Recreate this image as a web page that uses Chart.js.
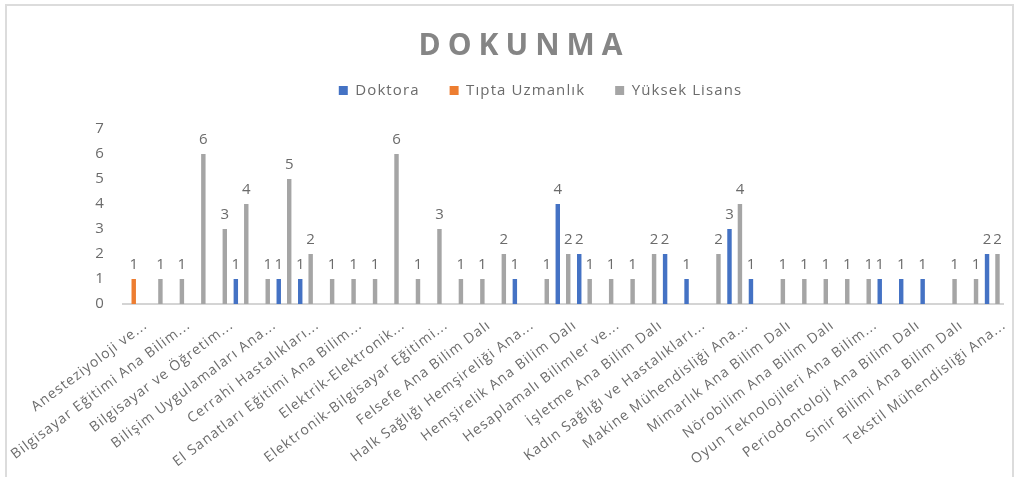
<!DOCTYPE html>
<html>
<head>
<meta charset="utf-8">
<title>DOKUNMA</title>
<script src="https://cdn.jsdelivr.net/npm/chart.js@4.4.1/dist/chart.umd.min.js"></script>
<style>
  body { margin: 0; background: #fff; }
  #wrap { position: relative; width: 1020px; height: 477px; overflow: hidden; }
  #frame { position: absolute; left: 5px; top: 4px; width: 1005px; height: 490px; border: 2px solid #dcdcdc; border-bottom: none; }
  #chart { position: absolute; left: 0; top: 0; }
</style>
</head>
<body>
<div id="wrap">
  <div id="frame"></div>
  <canvas id="chart" width="1020" height="477"></canvas>
</div>
<script>
// categories (only every other one is labelled in the original chart)
var categories = [
  'Anesteziyoloji ve...',
  'Bilgisayar Bilimleri Ana...',
  'Bilgisayar Eğitimi Ana Bilim...',
  'Bilgisayar Mühendisliği Ana...',
  'Bilgisayar ve Öğretim...',
  'Bilişim Sistemleri Ana...',
  'Bilişim Uygulamaları Ana...',
  'Biyomedikal Mühendisliği...',
  'Cerrahi Hastalıkları...',
  'Çocuk Sağlığı ve...',
  'El Sanatları Eğitimi Ana Bilim...',
  'Elektrik Mühendisliği Ana...',
  'Elektrik-Elektronik...',
  'Elektronik Mühendisliği...',
  'Elektronik-Bilgisayar Eğitimi...',
  'Endüstri Mühendisliği Ana...',
  'Felsefe Ana Bilim Dalı',
  'Fizik Ana Bilim Dalı',
  'Halk Sağlığı Hemşireliği Ana...',
  'Hareket ve Antrenman...',
  'Hemşirelik Ana Bilim Dalı',
  'Hemşirelik Esasları Ana...',
  'Hesaplamalı Bilimler ve...',
  'İç Hastalıkları Hemşireliği...',
  'İşletme Ana Bilim Dalı',
  'İşletme Yönetimi Ana...',
  'Kadın Sağlığı ve Hastalıkları...',
  'Kimya Mühendisliği Ana...',
  'Makine Mühendisliği Ana...',
  'Matematik Ana Bilim Dalı',
  'Mimarlık Ana Bilim Dalı',
  'Moleküler Biyoloji ve...',
  'Nörobilim Ana Bilim Dalı',
  'Ortodonti Ana Bilim Dalı',
  'Oyun Teknolojileri Ana Bilim...',
  'Pedodonti Ana Bilim Dalı',
  'Periodontoloji Ana Bilim Dalı',
  'Psikoloji Ana Bilim Dalı',
  'Sinir Bilimi Ana Bilim Dalı',
  'Spor Bilimleri Ana Bilim...',
  'Tekstil Mühendisliği Ana...'
];

var doktora =       [0,0,0,0,0,1,0,1,1,0, 0,0,0,0,0,0,0,0,1,0, 4,2,0,0,0,2,1,0,3,1, 0,0,0,0,0,1,1,1,0,0, 2];
var tiptaUzmanlik = [1,0,0,0,0,0,0,0,0,0, 0,0,0,0,0,0,0,0,0,0, 0,0,0,0,0,0,0,0,0,0, 0,0,0,0,0,0,0,0,0,0, 0];
var yuksekLisans =  [0,1,1,6,3,4,1,5,2,1, 1,1,6,1,3,1,1,2,0,1, 2,1,1,1,2,0,0,2,4,0, 1,1,1,1,1,0,0,0,1,1, 2];

var seriesNames = ['Doktora', 'Tıpta Uzmanlık', 'Yüksek Lisans'];
var seriesColors = ['#4472C4', '#ED7D31', '#A5A5A5'];
var yMin = 0, yMax = 7, yStep = 1;
var chartTitle = 'DOKUNMA';

var textColor = '#6b6b6b';
var fontFamily = "'Open Sans', 'Noto Sans', sans-serif";

// the original text is a bit spread out, so widen all letters slightly
var spacing = {
  id: 'spacing',
  beforeUpdate: function (chart) {
    if ('letterSpacing' in chart.ctx) chart.ctx.letterSpacing = '1.1px';
  },
  beforeDraw: function (chart) {
    if ('letterSpacing' in chart.ctx) chart.ctx.letterSpacing = '1.1px';
  }
};

// leave some room between the legend and the plot
var legendGap = {
  id: 'legendGap',
  beforeLayout: function (chart) {
    var lg = chart.legend;
    if (lg && !lg._gapAdded) {
      var fit = lg.fit;
      lg.fit = function () {
        fit.apply(this, arguments);
        this.height += 21;
      };
      lg._gapAdded = true;
    }
  }
};

// title drawn with letter spacing like the original
var titlePlugin = {
  id: 'spacedTitle',
  afterDraw: function (chart) {
    var ctx = chart.ctx;
    ctx.save();
    ctx.font = 'bold 30px ' + fontFamily;
    ctx.fillStyle = '#858585';
    ctx.textAlign = 'center';
    ctx.textBaseline = 'middle';
    if ('letterSpacing' in ctx) ctx.letterSpacing = '7px';
    ctx.fillText(chartTitle, 524, 46);
    ctx.restore();
  }
};

// value labels above every non-empty bar
var valueLabels = {
  id: 'valueLabels',
  afterDatasetsDraw: function (chart) {
    var ctx = chart.ctx;
    ctx.save();
    ctx.font = '15px ' + fontFamily;
    ctx.fillStyle = textColor;
    ctx.textAlign = 'center';
    ctx.textBaseline = 'bottom';
    if ('letterSpacing' in ctx) ctx.letterSpacing = '0px';
    chart.data.datasets.forEach(function (ds, i) {
      var meta = chart.getDatasetMeta(i);
      meta.data.forEach(function (bar, j) {
        var v = ds.data[j];
        if (!v) return;
        ctx.fillText(String(v), bar.x, bar.y - 7);
      });
    });
    ctx.restore();
  }
};

var ctx = document.getElementById('chart');
var chart = new Chart(ctx, {
  type: 'bar',
  data: {
    labels: categories,
    datasets: [{
      label: seriesNames[0],
      backgroundColor: seriesColors[0],
      data: doktora
    }, {
      label: seriesNames[1],
      backgroundColor: seriesColors[1],
      data: tiptaUzmanlik
    }, {
      label: seriesNames[2],
      backgroundColor: seriesColors[2],
      data: yuksekLisans
    }]
  },
  options: {
    responsive: false,
    animation: false,
    devicePixelRatio: 1,
    barPercentage: 0.85,
    categoryPercentage: 0.73,
    layout: {
      padding: { left: 78, right: 17, top: 53, bottom: 0 }
    },
    plugins: {
      title: { display: false },
      tooltip: { enabled: false },
      legend: {
        display: true,
        position: 'top',
        labels: {
          boxWidth: 9,
          boxHeight: 9,
          padding: 30,
          color: textColor,
          font: { family: fontFamily, size: 15 }
        }
      }
    },
    scales: {
      x: {
        grid: { display: false, drawTicks: false },
        border: { display: true, color: '#d4d4d4', width: 2 },
        ticks: {
          autoSkip: false,
          minRotation: 37,
          maxRotation: 37,
          padding: 13,
          labelOffset: 12,
          color: textColor,
          font: { family: fontFamily, size: 14 },
          callback: function (value, index) {
            return index % 2 === 0 ? this.getLabelForValue(value) : '';
          }
        },
        afterFit: function (scale) {
          scale.height = 173;
        }
      },
      y: {
        min: yMin,
        max: yMax,
        grid: { display: false, drawTicks: false },
        border: { display: false },
        ticks: {
          stepSize: yStep,
          padding: 18,
          color: textColor,
          font: { family: fontFamily, size: 15 }
        },
        afterFit: function (scale) {
          scale.width = 45;
        }
      }
    }
  },
  plugins: [spacing, legendGap, titlePlugin, valueLabels]
});
</script>
</body>
</html>
